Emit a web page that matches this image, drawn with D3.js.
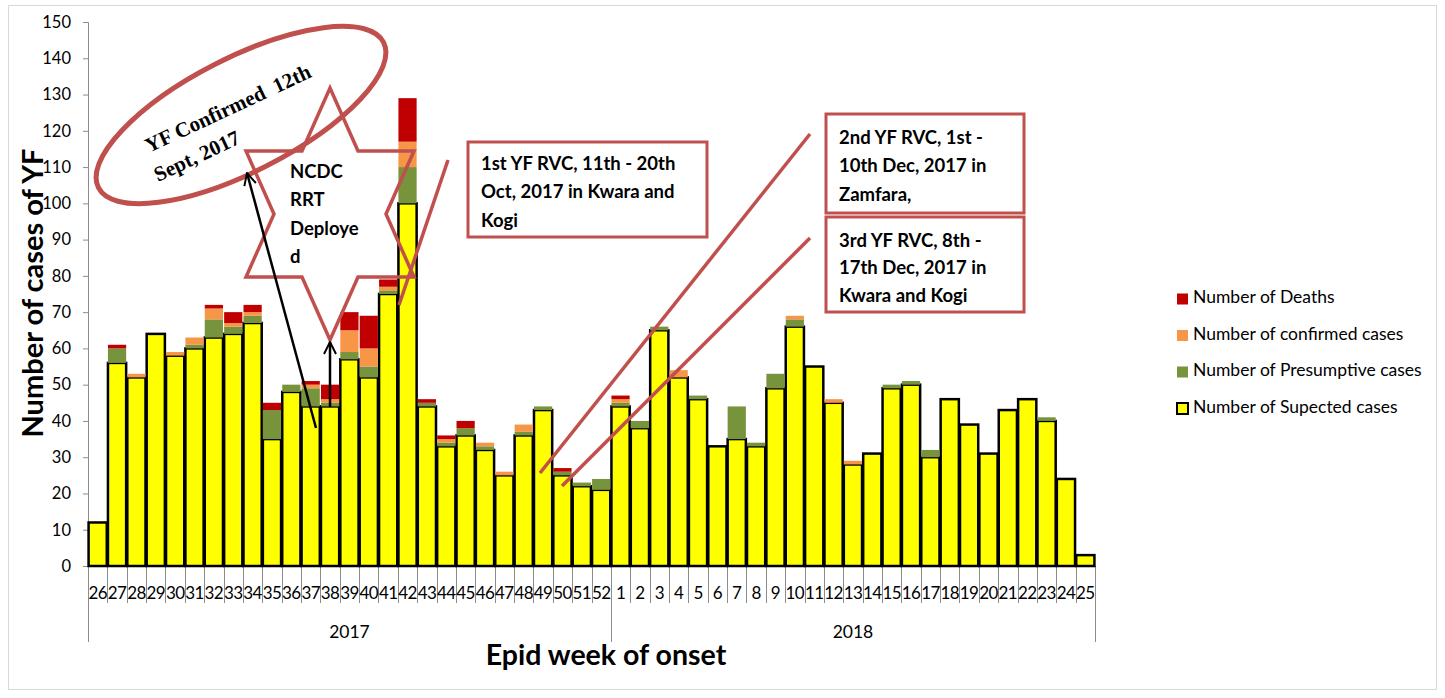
<!DOCTYPE html>
<html>
<head>
<meta charset="utf-8">
<script src="https://cdn.jsdelivr.net/npm/d3@7/dist/d3.min.js"></script>
<style>
  html, body { margin: 0; padding: 0; background: #fff; }
  svg { display: block; }
</style>
</head>
<body>
<svg id="chart" width="1445" height="698"></svg>
<script>
// ---- DATA ----
const weeks = ["26","27","28","29","30","31","32","33","34","35","36","37","38","39","40","41","42","43","44","45","46","47","48","49","50","51","52",
               "1","2","3","4","5","6","7","8","9","10","11","12","13","14","15","16","17","18","19","20","21","22","23","24","25"];
const years = ["2017","2018"];
const yearCounts = [27, 25];
const suspected = [12,56,52,64,58,60,63,64,67,35,48,44,44,57,52,75,100,44,33,36,32,25,36,43,25,22,21,
                   44,38,65,52,46,33,35,33,49,66,55,45,28,31,49,50,30,46,39,31,43,46,40,24,3];
const presumptive = [0,4,0,0,0,1,5,2,2,8,2,5,1,2,3,1,10,1,1,2,1,0,1,1,1,1,3,
                     1,2,1,0,1,0,9,1,4,2,0,0,0,0,1,1,2,0,0,0,0,0,1,0,0];
const confirmed = [0,0,1,0,1,2,3,1,1,0,0,1,1,6,5,1,7,0,1,0,1,1,2,0,0,0,0,
                   1,0,0,2,0,0,0,0,0,1,0,1,1,0,0,0,0,0,0,0,0,0,0,0,0];
const deaths = [0,1,0,0,0,0,1,3,2,2,0,1,4,5,9,2,12,1,1,2,0,0,0,0,1,0,0,
                1,0,0,0,0,0,0,0,0,0,0,0,0,0,0,0,0,0,0,0,0,0,0,0,0];
const yTicks = [0,10,20,30,40,50,60,70,80,90,100,110,120,130,140,150];
const seriesNames = ["Number of Deaths","Number of confirmed cases","Number of Presumptive cases","Number of Supected cases"];

(function(){
// ---- STYLE ----
const C = { sus:"#FFFF00", pre:"#77933C", con:"#F79646", dea:"#C00000", ann:"#C0504D" };
const sans = "Lato, 'Open Sans', sans-serif";

const svg = d3.select("#chart");
svg.append("rect").attr("x",8.5).attr("y",5.5).attr("width",1428).attr("height",684)
   .attr("fill","none").attr("stroke","#d9d9d9");

const pL = 88, pR = 1095, pT = 22, pB = 566;
const x = d3.scaleBand().domain(d3.range(weeks.length)).range([pL,pR]).paddingInner(0.06).paddingOuter(0.03);
const step = (pR-pL)/weeks.length;
const y = d3.scaleLinear().domain([0,150]).range([pB,pT]);

// y axis
const yAxis = svg.append("g").attr("transform",`translate(${pL},0)`)
  .call(d3.axisLeft(y).tickValues(yTicks).tickSize(5).tickPadding(12));
yAxis.select(".domain").attr("stroke","#8c8c8c");
yAxis.selectAll(".tick line").attr("stroke","#8c8c8c");
yAxis.selectAll(".tick text").attr("font-family",sans).attr("font-size","16.5px").attr("fill","#000");

// x axis: category labels with separators
const xb = svg.append("g");
xb.append("line").attr("x1",pL).attr("x2",pR).attr("y1",pB+0.5).attr("y2",pB+0.5).attr("stroke","#8c8c8c");
const sepIdx = d3.range(weeks.length+1);
const yearBoundaries = [0, yearCounts[0], weeks.length];
xb.selectAll("line.sep").data(sepIdx).join("line")
  .attr("x1",i=>Math.round(pL+i*step)+0.5).attr("x2",i=>Math.round(pL+i*step)+0.5)
  .attr("y1",pB).attr("y2",i=> yearBoundaries.includes(i) ? 642 : 603)
  .attr("stroke","#8c8c8c");
xb.selectAll("text.wk").data(weeks).join("text")
  .attr("x",(d,i)=>pL+(i+0.5)*step).attr("y",599)
  .attr("text-anchor","middle").attr("font-family",sans).attr("font-size","17px")
  .attr("letter-spacing","-0.6px").text(d=>d);
xb.selectAll("text.yr").data(years).join("text")
  .attr("x",(d,i)=>pL+step*(yearBoundaries[i]+yearBoundaries[i+1])/2).attr("y",638)
  .attr("text-anchor","middle").attr("font-family",sans).attr("font-size","17.5px").text(d=>d);

// titles
svg.append("text").attr("transform","translate(43,293) rotate(-90)").attr("text-anchor","middle")
  .attr("font-family",sans).attr("font-weight","bold").attr("font-size","29px").text("Number of cases of YF");
svg.append("text").attr("x",606).attr("y",665).attr("text-anchor","middle")
  .attr("font-family",sans).attr("font-weight","bold").attr("font-size","28.5px").text("Epid week of onset");

// stacked bars
const rows = weeks.map((w,i)=>({i, s:suspected[i], p:presumptive[i], c:confirmed[i], d:deaths[i]}));
const stack = d3.stack().keys(["s","p","c","d"])(rows);
const colors = {s:C.sus, p:C.pre, c:C.con, d:C.dea};
const bars = svg.append("g");
stack.forEach(layer=>{
  bars.append("g").selectAll("rect").data(layer.filter(v=>v[1]>v[0])).join("rect")
    .attr("x",v=>x(v.data.i)).attr("width",x.bandwidth())
    .attr("y",v=>y(v[1])).attr("height",v=>y(v[0])-y(v[1]))
    .attr("fill",colors[layer.key])
    .attr("stroke", layer.key==="s" ? "#000" : "none")
    .attr("stroke-width", layer.key==="s" ? 2.5 : 0);
});

// legend
const lg = svg.append("g");
const legColors = [C.dea, C.con, C.pre, C.sus];
seriesNames.forEach((n,k)=>{
  const cy = 299 + k*36.5;
  lg.append("rect").attr("x",1177).attr("y",cy-5.5).attr("width",11).attr("height",11)
    .attr("fill",legColors[k]).attr("stroke",k===3?"#000":"none").attr("stroke-width",k===3?2:0);
  lg.append("text").attr("x",1193).attr("y",cy).attr("dominant-baseline","middle")
    .attr("font-family",sans).attr("font-size","17.5px").text(n);
});

// ---- ANNOTATIONS ----
const ann = svg.append("g");
// ellipse
ann.append("ellipse").attr("cx",241).attr("cy",115).attr("rx",160).attr("ry",57)
  .attr("transform","rotate(-27,241,115)").attr("fill","none").attr("stroke",C.ann).attr("stroke-width",5);
const et = ann.append("g").attr("transform","translate(149,153) rotate(-25)")
  .attr("font-family","'Liberation Serif', 'Times New Roman', serif").attr("font-weight","bold").attr("font-size","21px");
et.append("text").attr("x",0).attr("y",0).style("white-space","pre").text("YF Confirmed  12th");
et.append("text").attr("x",-4).attr("y",30).text("Sept, 2017");

// star (hexagram): outer radius in x/y, inner = outer/sqrt(3)
const scx = 330, scy = 214, orx = 84/Math.cos(Math.PI/6), ory = 126;
const starPts = d3.range(12).map(k=>{
  const a = Math.PI/2 - k*Math.PI/6;
  const f = k%2===0 ? 1 : 1/Math.sqrt(3);
  return [scx + orx*f*Math.cos(a), scy - ory*f*Math.sin(a)];
});
ann.append("path").attr("d","M"+starPts.map(p=>p.join(",")).join("L")+"Z")
  .attr("fill","none").attr("stroke",C.ann).attr("stroke-width",3.5);
const starLines = ["NCDC","RRT","Deploye","d"];
ann.selectAll("text.st").data(starLines).join("text")
  .attr("x",290).attr("y",(d,i)=>178+i*28.3).attr("font-family",sans).attr("font-weight","bold")
  .attr("font-size","18.5px").text(d=>d);

// arrows
const defs = svg.append("defs");
defs.append("marker").attr("id","arr").attr("viewBox","0 0 10 10").attr("refX",9).attr("refY",5)
  .attr("markerWidth",6).attr("markerHeight",6).attr("orient","auto").attr("markerUnits","strokeWidth")
  .append("path").attr("d","M1,1 L9,5 L1,9").attr("fill","none").attr("stroke","#000").attr("stroke-width",1.3);
ann.append("line").attr("x1",316).attr("y1",428).attr("x2",247).attr("y2",173)
  .attr("stroke","#000").attr("stroke-width",2.5).attr("marker-end","url(#arr)");
ann.append("line").attr("x1",330).attr("y1",407).attr("x2",330).attr("y2",342)
  .attr("stroke","#000").attr("stroke-width",2.5).attr("marker-end","url(#arr)");

// red callout lines
[[399,305,448,160],[540,473,810,134],[562,486,810,238]].forEach(l=>{
  ann.append("line").attr("x1",l[0]).attr("y1",l[1]).attr("x2",l[2]).attr("y2",l[3])
    .attr("stroke",C.ann).attr("stroke-width",3.5);
});

// boxes
const boxes = [
  {x:468,y:142,w:239,h:95, tx:481, ty:[170,198,227], lines:["1st YF RVC, 11th - 20th","Oct, 2017 in Kwara and","Kogi"]},
  {x:826,y:114,w:198,h:99, tx:839, ty:[144,172,201], lines:["2nd YF RVC, 1st -","10th Dec, 2017 in","Zamfara,"]},
  {x:826,y:217,w:198,h:95, tx:839, ty:[247,274,302], lines:["3rd YF RVC, 8th -","17th Dec, 2017 in","Kwara and Kogi"]}
];
boxes.forEach(b=>{
  ann.append("rect").attr("x",b.x).attr("y",b.y).attr("width",b.w).attr("height",b.h)
    .attr("fill","#fff").attr("stroke",C.ann).attr("stroke-width",3);
  b.lines.forEach((t,i)=>{
    ann.append("text").attr("x",b.tx).attr("y",b.ty[i]).attr("font-family",sans)
      .attr("font-weight","bold").attr("font-size","18.5px").text(t);
  });
});
})();
</script>
</body>
</html>
